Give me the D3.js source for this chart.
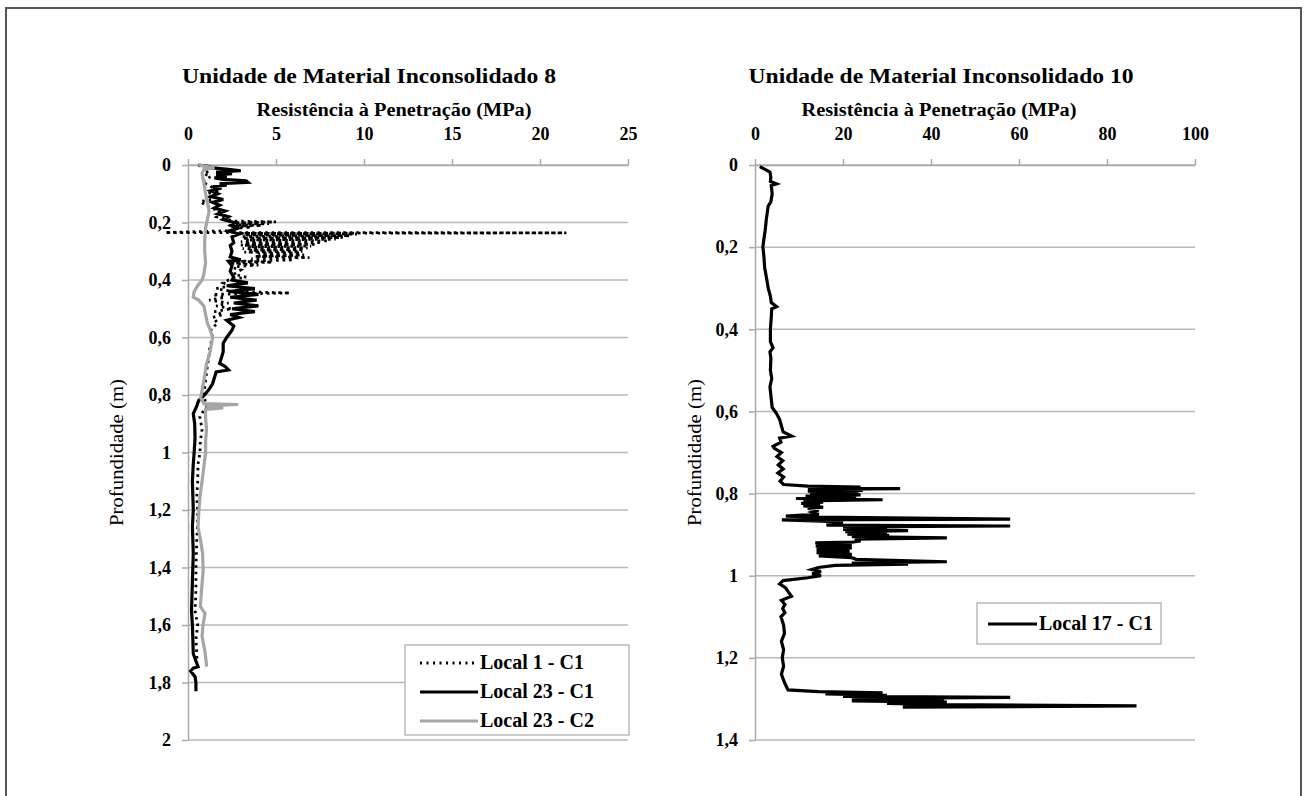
<!DOCTYPE html>
<html>
<head>
<meta charset="utf-8">
<script src="https://cdn.jsdelivr.net/npm/d3@7"></script>
<style>
  body { margin: 0; background: #fff; }
  svg { display: block; font-family: "Liberation Serif", "Times New Roman", serif; }
  .tick text { font-weight: bold; font-size: 18px; fill: #000; }
  .grid line { stroke: #b8b8b8; stroke-width: 1.5; }
</style>
</head>
<body>
<svg width="1306" height="796"></svg>
<script>
// Data: [profundidade (m), resistencia (MPa)]
let local1C1 = [
  [0.00,0.6],[0.01,0.9],[0.02,1.2],[0.03,0.9],[0.04,1.3],[0.05,1.0],[0.06,0.8],[0.07,1.2],[0.09,1.6],[0.10,1.1],
  [0.12,1.4],[0.127,0.7],[0.14,1.0],[0.15,1.3],[0.16,1.8],[0.18,1.6],[0.19,2.3],[0.195,2.6],[0.198,5.0],[0.201,2.6],
  [0.204,4.6],[0.207,2.5],[0.210,4.2],[0.213,2.6],[0.216,3.6],[0.22,2.7],[0.228,2.8],[0.235,-1.3],[0.236,21.5],[0.238,3.0],
  [0.240,9.6],[0.243,3.2],[0.246,9.2],[0.249,3.0],[0.252,8.8],[0.255,3.1],[0.258,8.4],[0.261,3.3],[0.264,8.0],[0.267,3.0],
  [0.270,7.6],[0.273,3.2],[0.276,7.3],[0.279,3.0],[0.282,7.0],[0.285,3.4],[0.288,6.8],[0.291,3.1],[0.294,6.6],[0.297,3.5],
  [0.300,6.5],[0.303,3.2],[0.306,6.4],[0.309,4.0],[0.313,6.6],[0.318,3.8],[0.322,6.9],[0.326,3.6],[0.330,6.0],[0.335,2.8],
  [0.338,4.8],[0.342,2.5],[0.348,4.0],[0.355,2.4],[0.365,3.0],[0.38,2.6],[0.39,3.3],[0.40,2.3],[0.41,2.0],[0.42,2.4],
  [0.43,1.6],[0.44,2.5],[0.445,5.8],[0.45,1.4],[0.46,2.1],[0.47,1.2],[0.48,2.3],[0.49,1.6],[0.50,2.5],[0.51,1.5],
  [0.52,2.0],[0.53,1.4],[0.55,1.7],[0.57,1.3],[0.60,1.4],[0.63,1.25],[0.66,1.2],[0.70,1.1],[0.75,1.0],[0.80,0.9],
  [0.84,1.05],[0.875,0.67],[0.92,0.8],[0.96,0.7],[1.00,0.68],[1.04,0.57],[1.10,0.55],[1.155,0.5],[1.20,0.55],[1.24,0.55],
  [1.30,0.5],[1.40,0.45],[1.48,0.45],[1.55,0.4],[1.60,0.55],[1.65,0.45],[1.70,0.5],[1.73,0.5]
];

let local23C1 = [
  [0.000,0.6],[0.005,1.2],[0.010,1.4],[0.015,2.3],[0.020,3.0],[0.025,1.6],[0.030,2.5],[0.035,1.6],[0.040,2.2],[0.045,1.5],
  [0.050,2.0],[0.055,3.3],[0.060,3.4],[0.065,1.8],[0.070,2.2],[0.075,1.4],[0.080,1.9],[0.090,1.3],[0.100,1.7],[0.110,1.3],
  [0.120,2.0],[0.130,1.4],[0.140,1.8],[0.150,1.5],[0.160,2.1],[0.170,1.7],[0.180,2.3],[0.190,2.0],[0.200,2.6],[0.210,2.4],
  [0.220,2.8],[0.230,2.3],[0.240,2.9],[0.250,2.5],[0.270,2.6],[0.280,2.4],[0.300,2.5],[0.320,2.4],[0.330,3.0],[0.335,2.3],
  [0.350,2.5],[0.370,2.4],[0.390,2.6],[0.400,2.5],[0.410,3.4],[0.420,2.2],[0.430,3.8],[0.440,2.3],[0.450,4.0],[0.460,2.4],
  [0.470,3.9],[0.480,2.6],[0.490,4.0],[0.500,2.5],[0.510,3.8],[0.520,2.4],[0.530,2.9],[0.540,2.2],[0.560,2.6],[0.575,2.5],
  [0.600,2.2],[0.620,2.0],[0.650,2.0],[0.690,1.8],[0.700,2.1],[0.713,2.3],[0.720,1.6],[0.760,1.4],[0.780,1.2],[0.805,0.86],
  [0.820,0.6],[0.840,0.49],[0.865,0.3],[0.900,0.38],[0.950,0.4],[1.000,0.35],[1.040,0.3],[1.100,0.25],[1.200,0.3],[1.260,0.25],
  [1.350,0.3],[1.450,0.25],[1.550,0.2],[1.600,0.25],[1.700,0.3],[1.745,0.57],[1.750,0.3],[1.760,0.15],[1.780,0.4],[1.800,0.45],
  [1.830,0.45]
];

let local23C2 = [
  [0.000,0.6],[0.005,1.0],[0.010,1.5],[0.015,0.9],[0.030,0.8],[0.060,0.9],[0.100,1.0],[0.130,1.1],[0.160,1.2],[0.190,1.1],
  [0.220,1.0],[0.260,0.95],[0.300,0.95],[0.340,1.0],[0.380,0.9],[0.400,0.8],[0.420,0.55],[0.440,0.35],[0.460,0.3],[0.470,0.6],
  [0.490,0.9],[0.520,1.0],[0.550,1.1],[0.580,1.3],[0.600,1.4],[0.650,1.25],[0.690,1.06],[0.750,0.9],[0.810,0.72],[0.830,0.9],
  [0.833,2.85],[0.838,1.0],[0.845,2.0],[0.850,1.0],[0.880,1.0],[0.920,1.05],[0.960,1.0],[1.000,1.0],[1.050,0.9],[1.100,0.8],
  [1.155,0.68],[1.200,0.62],[1.260,0.57],[1.300,0.7],[1.350,0.83],[1.410,0.86],[1.470,0.78],[1.535,0.7],[1.560,0.97],[1.600,0.85],
  [1.640,0.8],[1.695,0.97],[1.745,1.06]
];

let local17C1 = [
  [0.004,1.1],[0.017,3.4],[0.030,3.6],[0.040,3.5],[0.046,4.9],[0.050,3.7],[0.070,3.9],[0.090,3.6],[0.100,3.0],[0.130,2.6],
  [0.160,2.3],[0.190,1.9],[0.200,1.8],[0.220,2.0],[0.250,2.2],[0.280,2.7],[0.300,3.0],[0.320,3.5],[0.335,3.7],[0.345,4.9],
  [0.350,3.8],[0.370,3.7],[0.400,3.5],[0.430,3.5],[0.445,4.1],[0.455,3.4],[0.470,3.6],[0.500,3.5],[0.520,3.8],[0.540,3.4],
  [0.560,3.6],[0.590,3.9],[0.605,4.9],[0.620,5.6],[0.635,6.0],[0.650,6.4],[0.660,8.3],[0.665,5.6],[0.675,5.9],[0.685,4.1],
  [0.690,4.4],[0.700,6.0],[0.710,5.0],[0.720,6.3],[0.730,5.3],[0.740,6.4],[0.750,5.2],[0.760,6.5],[0.770,5.7],[0.778,6.5],
  [0.782,12.0],[0.784,24],[0.786,12.5],[0.788,33],[0.790,12],[0.792,24.5],[0.794,12],[0.797,23.5],[0.800,12.5],[0.803,24],
  [0.806,11.5],[0.809,23],[0.812,9.3],[0.815,29],[0.818,11],[0.821,15.5],[0.824,10.5],[0.827,14.8],[0.830,11],[0.833,15.5],
  [0.836,12.0],[0.840,14.5],[0.845,13.0],[0.850,14.5],[0.855,7.0],[0.857,14],[0.862,58],[0.864,6.1],[0.867,15],[0.870,20],
  [0.873,17],[0.877,16.3],[0.879,58],[0.881,20],[0.884,30],[0.887,20],[0.890,34.8],[0.893,20.5],[0.896,30],[0.899,21],
  [0.902,30.5],[0.905,22],[0.908,43.6],[0.911,22.7],[0.915,24],[0.918,22],[0.920,13.7],[0.925,22],[0.928,13.8],[0.932,22],
  [0.936,14],[0.940,21.5],[0.944,14],[0.948,22],[0.952,14.5],[0.956,22],[0.960,23],[0.966,43.6],[0.969,22],[0.972,34.8],
  [0.975,18.2],[0.980,14.4],[0.985,12.9],[0.990,15],[0.995,13],[1.000,15],[1.005,12],[1.012,6.4],[1.020,5.6],[1.030,7.0],
  [1.040,7.6],[1.050,8.3],[1.060,6.0],[1.070,6.8],[1.080,6.3],[1.090,6.8],[1.100,5.9],[1.120,6.5],[1.140,6.7],[1.160,6.0],
  [1.180,6.5],[1.200,6.2],[1.220,6.5],[1.240,6.0],[1.260,6.7],[1.278,7.5],[1.282,14.4],[1.285,29],[1.288,16],[1.291,30],
  [1.294,20],[1.296,58],[1.299,22],[1.302,43],[1.305,22],[1.308,43.6],[1.311,30],[1.314,43],[1.317,86.7],[1.320,33.6]
];

// Ticks
let leftXTicks = [0, 5, 10, 15, 20, 25];
let leftYTicks = [0, 0.2, 0.4, 0.6, 0.8, 1, 1.2, 1.4, 1.6, 1.8, 2];
let rightXTicks = [0, 20, 40, 60, 80, 100];
let rightYTicks = [0, 0.2, 0.4, 0.6, 0.8, 1, 1.2, 1.4];

let titles = ["Unidade de Material Inconsolidado 8", "Unidade de Material Inconsolidado 10"];
let xTitle = "Resistência à Penetração (MPa)";
let yTitle = "Profundidade (m)";

let svg = d3.select('svg');

// outer frame
svg.append('rect')
  .attr('x', 6).attr('y', 8)
  .attr('width', 1295).attr('height', 800)
  .attr('fill', 'none')
  .attr('stroke', '#555')
  .attr('stroke-width', 2);

let fmt = d => String(+d.toFixed(1)).replace('.', ',');

function panel(opt) {
  let x = d3.scaleLinear().domain([0, opt.xTicks[opt.xTicks.length - 1]]).range([opt.left, opt.right]);
  let y = d3.scaleLinear().domain([0, opt.yTicks[opt.yTicks.length - 1]]).range([opt.top, opt.bottom]);

  // gridlines
  svg.append('g')
    .attr('class', 'grid')
    .selectAll('line')
    .data(opt.yTicks)
    .enter()
    .append('line')
    .attr('x1', opt.left).attr('x2', opt.right)
    .attr('y1', d => y(d)).attr('y2', d => y(d));

  let xAxis = svg.append('g')
    .attr('transform', `translate(0,${opt.top})`)
    .call(d3.axisTop(x).tickValues(opt.xTicks).tickFormat(d => d).tickSize(6).tickSizeOuter(0).tickPadding(19));
  let yAxis = svg.append('g')
    .attr('transform', `translate(${opt.left},0)`)
    .call(d3.axisLeft(y).tickValues(opt.yTicks).tickFormat(fmt).tickSize(6).tickSizeOuter(0).tickPadding(11));
  [xAxis, yAxis].forEach(a => {
    a.attr('font-family', null).attr('font-size', null);
    a.select('.domain').attr('stroke', '#a8a8a8').attr('stroke-width', 1.5);
    a.selectAll('.tick line').attr('stroke', '#a8a8a8').attr('stroke-width', 1.5);
  });

  // titles
  svg.append('text')
    .text(opt.title)
    .attr('x', opt.titleX).attr('y', 83)
    .attr('text-anchor', 'middle')
    .attr('font-weight', 'bold').attr('font-size', 22)
    .attr('textLength', opt.titleW).attr('lengthAdjust', 'spacingAndGlyphs');

  svg.append('text')
    .text(xTitle)
    .attr('x', opt.xTitleX).attr('y', 116)
    .attr('text-anchor', 'middle')
    .attr('font-weight', 'bold').attr('font-size', 18)
    .attr('textLength', 275).attr('lengthAdjust', 'spacingAndGlyphs');

  svg.append('text')
    .text(yTitle)
    .attr('transform', `translate(${opt.yTitleX},${(opt.top + opt.bottom) / 2}) rotate(-90)`)
    .attr('text-anchor', 'middle')
    .attr('dy', '0.35em')
    .attr('font-size', 18)
    .attr('textLength', 147).attr('lengthAdjust', 'spacingAndGlyphs');

  let line = d3.line().x(d => x(d[1])).y(d => y(d[0]));

  opt.series.forEach(s => {
    svg.append('path')
      .datum(s.data)
      .attr('d', line)
      .attr('fill', 'none')
      .attr('stroke', s.color)
      .attr('stroke-width', s.width)
      .attr('stroke-dasharray', s.dash || null);
  });

  // legend
  let lg = svg.append('g');
  lg.append('rect')
    .attr('x', opt.legend.x).attr('y', opt.legend.y)
    .attr('width', opt.legend.w).attr('height', opt.legend.h)
    .attr('fill', '#fff').attr('stroke', '#a8a8a8').attr('stroke-width', 1.2);
  opt.series.forEach((s, i) => {
    let cy = opt.legend.y + opt.legend.rowY + i * opt.legend.rowH;
    lg.append('line')
      .attr('x1', opt.legend.x + opt.legend.pad).attr('x2', opt.legend.x + opt.legend.pad + opt.legend.sample)
      .attr('y1', cy).attr('y2', cy)
      .attr('stroke', s.color).attr('stroke-width', s.width)
      .attr('stroke-dasharray', s.dash ? '2,4.5' : null);
    lg.append('text')
      .text(s.name)
      .attr('x', opt.legend.x + opt.legend.pad + opt.legend.sample + 2)
      .attr('y', cy + 6)
      .attr('font-weight', 'bold').attr('font-size', 20);
  });
}

panel({
  left: 188, right: 628, top: 165, bottom: 740,
  xTicks: leftXTicks, yTicks: leftYTicks,
  title: titles[0], titleX: 369, titleW: 374, xTitleX: 394, yTitleX: 117,
  series: [
    { name: 'Local 1 - C1', data: local1C1, color: '#000', width: 2.8, dash: '2.5,4' },
    { name: 'Local 23 - C1', data: local23C1, color: '#000', width: 3.2 },
    { name: 'Local 23 - C2', data: local23C2, color: '#a6a6a6', width: 3.2 }
  ],
  legend: { x: 405, y: 645, w: 224, h: 90, pad: 15, sample: 58, rowY: 18, rowH: 29 }
});

panel({
  left: 755, right: 1195, top: 165, bottom: 740,
  xTicks: rightXTicks, yTicks: rightYTicks,
  title: titles[1], titleX: 941, titleW: 385, xTitleX: 939, yTitleX: 695,
  series: [
    { name: 'Local 17 - C1', data: local17C1, color: '#000', width: 3.2 }
  ],
  legend: { x: 977, y: 603, w: 184, h: 41, pad: 11, sample: 49, rowY: 21, rowH: 29 }
});
</script>
</body>
</html>
